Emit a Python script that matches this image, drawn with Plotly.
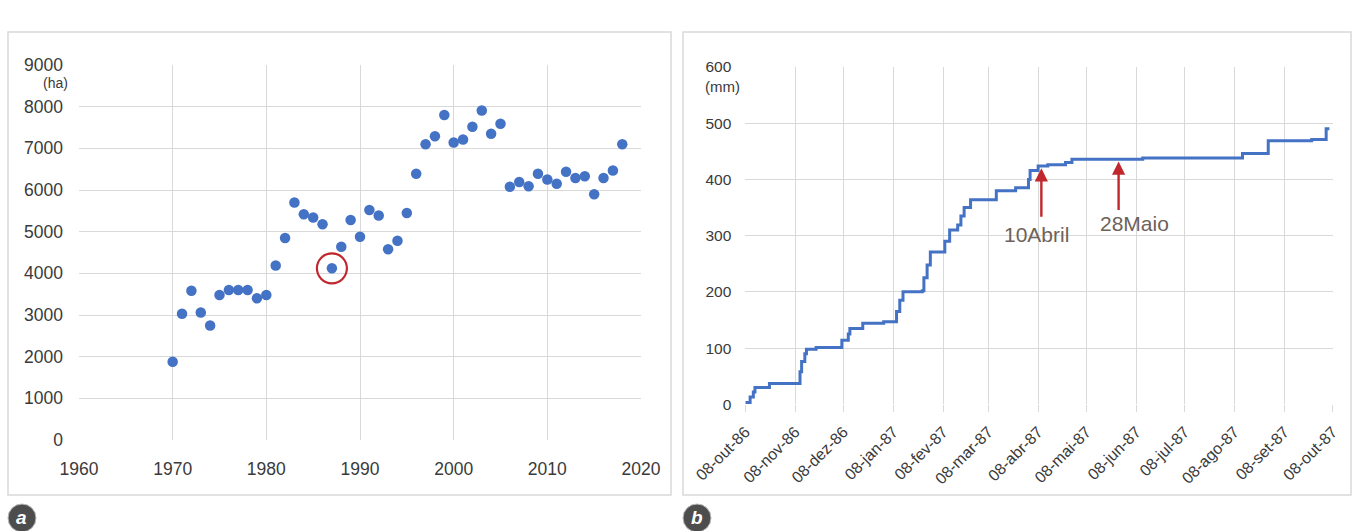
import plotly.graph_objects as go

# ---- Panel a: annual area (ha) ----
years = list(range(1970, 2019))
area_ha = [
    1880, 3030, 3580, 3060, 2750, 3480, 3600, 3600, 3600, 3400,
    3480, 4190, 4850, 5700, 5420, 5340, 5180, 4120, 4640, 5280,
    4880, 5520, 5390, 4580, 4780, 5450, 6390, 7100, 7290, 7800,
    7140, 7210, 7520, 7910, 7350, 7590, 6080, 6190, 6090, 6390,
    6250, 6150, 6440, 6290, 6330, 5900, 6290, 6470, 7100,
]
highlight_year = 1987
highlight_value = area_ha[years.index(highlight_year)]

# ---- Panel b: cumulative rainfall (mm), step breakpoints ----
rain_dates = [
    "1986-10-08", "1986-10-11", "1986-10-13", "1986-10-14", "1986-10-23",
    "1986-11-11", "1986-11-12", "1986-11-14", "1986-11-15", "1986-11-21",
    "1986-12-07", "1986-12-11", "1986-12-12", "1986-12-20", "1987-01-02",
    "1987-01-10", "1987-01-12", "1987-01-14", "1987-01-26", "1987-01-27",
    "1987-01-29", "1987-01-31", "1987-02-09", "1987-02-12", "1987-02-17",
    "1987-02-19", "1987-02-21", "1987-02-25", "1987-03-13", "1987-03-25",
    "1987-04-02", "1987-04-03", "1987-04-08", "1987-04-14", "1987-04-25",
    "1987-04-29", "1987-06-12", "1987-08-13", "1987-08-29", "1987-09-25",
    "1987-10-04", "1987-10-06",
]
rain_cum_mm = [
    3, 13, 22, 30, 37,
    58, 76, 90, 98, 101,
    114, 125, 135, 144, 147,
    165, 185, 200, 202, 225,
    248, 271, 290, 310, 319,
    335, 350, 364, 380, 385,
    400, 416, 424, 426, 430,
    436, 438, 446, 469, 471,
    490, 490,
]

month_ticks = [
    "1986-10-08", "1986-11-08", "1986-12-08", "1987-01-08", "1987-02-08",
    "1987-03-08", "1987-04-08", "1987-05-08", "1987-06-08", "1987-07-08",
    "1987-08-08", "1987-09-08", "1987-10-08",
]
month_labels = [
    "08-out-86", "08-nov-86", "08-dez-86", "08-jan-87", "08-fev-87",
    "08-mar-87", "08-abr-87", "08-mai-87", "08-jun-87", "08-jul-87",
    "08-ago-87", "08-set-87", "08-out-87",
]

# (date, label, arrow head value, label x offset px, label y offset px)
events = [
    ("1987-04-10", "10Abril", 420, -5, -66),
    ("1987-05-28", "28Maio", 432, 16, -62),
]

W, H = 1354, 531
BLUE = "#4472c4"
GRID = "#d9d9d9"
TXT = "#3a3a3a"
FONT = "Liberation Sans"


def px(x):
    return x / W


def py(y):
    return 1 - y / H


fig = go.Figure()

fig.add_trace(go.Scatter(
    x=years, y=area_ha, mode="markers",
    marker=dict(color=BLUE, size=10.5, line=dict(width=0)),
    xaxis="x", yaxis="y", showlegend=False, hoverinfo="x+y",
))

fig.add_trace(go.Scatter(
    x=rain_dates, y=rain_cum_mm, mode="lines", line_shape="hv",
    line=dict(color=BLUE, width=3),
    xaxis="x2", yaxis="y2", showlegend=False,
))

axis_common = dict(
    showgrid=True, gridcolor=GRID, gridwidth=1.2,
    zeroline=False, showline=False, fixedrange=True, automargin=False,
)

fig.update_layout(
    width=W, height=H,
    margin=dict(l=0, r=0, t=0, b=0, pad=0, autoexpand=False),
    paper_bgcolor="white", plot_bgcolor="white",
    font=dict(family=FONT, color=TXT),
    xaxis=dict(
        **axis_common, domain=[px(79), px(641)], range=[1960, 2020],
        tickmode="array", tickvals=list(range(1960, 2021, 10)),
        ticks="", tickfont=dict(size=17.5), ticklabelstandoff=16,
        anchor="y",
    ),
    yaxis=dict(
        **axis_common, domain=[py(440), py(65)], range=[0, 9000],
        tickmode="array", tickvals=list(range(0, 9001, 1000)),
        ticks="", tickfont=dict(size=17.5), ticklabelstandoff=15,
        anchor="x",
    ),
    xaxis2=dict(
        **axis_common, domain=[px(745.3), px(1332.6)], type="date",
        range=["1986-10-08", "1987-10-08"],
        tickmode="array", tickvals=month_ticks, ticktext=month_labels,
        tickangle=-45, ticks="outside", ticklen=7, tickcolor=GRID,
        tickfont=dict(size=16), ticklabelstandoff=4, anchor="y2",
    ),
    yaxis2=dict(
        **axis_common, domain=[py(404.3), py(67)], range=[0, 600],
        tickmode="array", tickvals=list(range(0, 601, 100)),
        ticks="", tickfont=dict(size=15.5), ticklabelstandoff=13,
        anchor="x2",
    ),
)

shapes = [
    # panel frames
    dict(type="rect", xref="paper", yref="paper", x0=px(8), x1=px(671),
         y0=py(495), y1=py(32), line=dict(color=GRID, width=1.5), layer="below"),
    dict(type="rect", xref="paper", yref="paper", x0=px(683), x1=px(1351),
         y0=py(495), y1=py(32), line=dict(color=GRID, width=1.5), layer="below"),
    # highlight ring around one year
    dict(type="circle", xref="x", yref="y", xsizemode="pixel", ysizemode="pixel",
         xanchor=highlight_year, yanchor=highlight_value,
         x0=-15, x1=15, y0=-15, y1=15,
         line=dict(color="#c0282d", width=2.2)),
    # panel badges
    dict(type="circle", xref="paper", yref="paper", x0=px(8), x1=px(36),
         y0=py(532), y1=py(504), fillcolor="#4d4d4d",
         line=dict(color="#bdbdbd", width=1)),
    dict(type="circle", xref="paper", yref="paper", x0=px(683), x1=px(711),
         y0=py(532), y1=py(504), fillcolor="#4d4d4d",
         line=dict(color="#bdbdbd", width=1)),
]
fig.update_layout(shapes=shapes)

annotations = [
    dict(text="(ha)", xref="paper", yref="paper", x=px(55), y=py(83),
         showarrow=False, font=dict(size=14, color=TXT),
         xanchor="center", yanchor="middle"),
    dict(text="(mm)", xref="paper", yref="paper", x=px(722), y=py(86),
         showarrow=False, font=dict(size=15, color=TXT),
         xanchor="center", yanchor="middle"),
    dict(text="<b><i>a</i></b>", xref="paper", yref="paper", x=px(22), y=py(517),
         showarrow=False, font=dict(size=19, color="white"),
         xanchor="center", yanchor="middle"),
    dict(text="<b><i>b</i></b>", xref="paper", yref="paper", x=px(697), y=py(517),
         showarrow=False, font=dict(size=19, color="white"),
         xanchor="center", yanchor="middle"),
]

for date, label, head_mm, dx, dy in events:
    annotations.append(dict(
        x=date, y=head_mm, xref="x2", yref="y2", text="",
        showarrow=True, arrowhead=2, arrowsize=1.1, arrowwidth=2.4,
        arrowcolor="#c0282d", ax=0, ay=50, standoff=0, startstandoff=0,
    ))
    annotations.append(dict(
        x=date, y=head_mm, xref="x2", yref="y2", text=label,
        showarrow=False, xshift=dx, yshift=dy,
        font=dict(size=21, color="#6e6259", family=FONT),
        xanchor="center", yanchor="middle",
    ))

fig.update_layout(annotations=annotations)

fig.write_html("out.html")
